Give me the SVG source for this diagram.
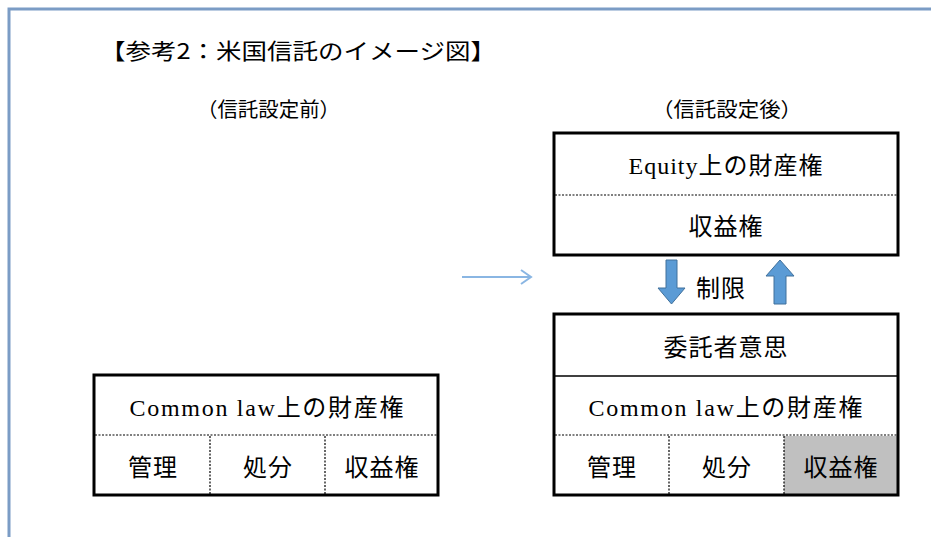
<svg xmlns="http://www.w3.org/2000/svg" width="931" height="537" viewBox="0 0 931 537">
<style>
.jp{font-family:"Noto Sans CJK JP","Noto Sans",sans-serif;fill:#000}
.lat{font-family:"Liberation Serif",serif}
.t{font-size:24px;text-anchor:middle;letter-spacing:1px}
.box{fill:#fff;stroke:#000;stroke-width:3}
.dot{stroke:#000;stroke-width:1.2;stroke-dasharray:2 1.5;fill:none}
.blue{fill:#5b9bd5;stroke:#41719c;stroke-width:1}
</style>
<rect x="0" y="0" width="931" height="537" fill="#fff"/>
<path d="M9 537 V9 H931" fill="none" stroke="#7b9cc5" stroke-width="3"/>
<text class="jp" x="100" y="59" font-size="22" textLength="396" lengthAdjust="spacingAndGlyphs">【参考2：米国信託のイメージ図】</text>
<text class="jp" x="197" y="117" font-size="20" textLength="143" lengthAdjust="spacingAndGlyphs">（信託設定前）</text>
<text class="jp" x="652" y="117" font-size="20" textLength="150" lengthAdjust="spacingAndGlyphs">（信託設定後）</text>
<g id="left-box">
<rect class="box" x="94" y="375" width="344" height="120"/>
<path class="dot" d="M95 435 H437 M210 436 V494 M325 436 V494"/>
<text class="jp t" x="267" y="416" textLength="275" lengthAdjust="spacing"><tspan class="lat">Common law</tspan>上の財産権</text>
<text class="jp t" x="153" y="476">管理</text>
<text class="jp t" x="268" y="476">処分</text>
<text class="jp t" x="382" y="476">収益権</text>
</g>
<g id="equity-box">
<rect class="box" x="554" y="133" width="344" height="122"/>
<path class="dot" d="M555 195 H897"/>
<text class="jp t" x="726" y="174"><tspan class="lat">Equity</tspan>上の財産権</text>
<text class="jp t" x="726" y="235">収益権</text>
</g>
<g id="trust-box">
<rect x="784" y="436" width="113" height="58" fill="#c0c0c0"/>
<rect x="554" y="314" width="344" height="181" fill="none" stroke="#000" stroke-width="3"/>
<path d="M555 376 H897" stroke="#000" stroke-width="1.5"/>
<path class="dot" d="M555 435 H897 M669 436 V494 M784 436 V494"/>
<text class="jp t" x="726" y="356">委託者意思</text>
<text class="jp t" x="726" y="416" textLength="275" lengthAdjust="spacing"><tspan class="lat">Common law</tspan>上の財産権</text>
<text class="jp t" x="612" y="476">管理</text>
<text class="jp t" x="727" y="476">処分</text>
<text class="jp t" x="841" y="476">収益権</text>
</g>
<g id="connectors">
<path d="M462 277 H531 M521 270 L531 277 L521 284" fill="none" stroke="#8ab6e3" stroke-width="2"/>
<path class="blue" d="M666 260 H677 V288 H685 L671.5 304 L658 288 H666 Z"/>
<path class="blue" d="M774 304 H786 V276 H794 L780 260 L766 276 H774 Z"/>
<text class="jp" x="696" y="297" font-size="24" letter-spacing="1">制限</text>
</g>
</svg>
